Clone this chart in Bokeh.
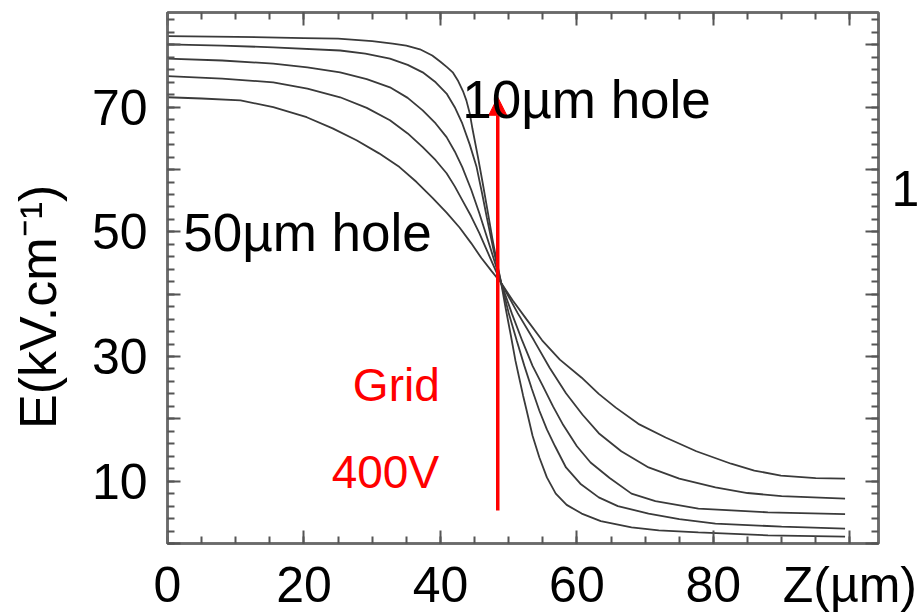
from bokeh.plotting import figure
from bokeh.models import Range1d, FixedTicker, LinearAxis, Label, Arrow, NormalHead
from bokeh.embed import file_html
from bokeh.resources import INLINE

# ---- data: field E (kV/cm) along Z (um), one curve per hole size ----
hole_10_z = [0, 10, 20, 25, 30, 33, 35, 37, 38.8, 40, 41, 41.8, 42.6, 43.3, 43.8, 44.3, 44.7, 45.5, 46.2, 47.0, 47.6,
             48.3, 48.9, 49.6, 50.3, 51.0, 51.5, 52.1, 52.6, 53.5, 54.5, 55.6, 56.9, 58.5, 60.7, 63.5, 68, 72, 77.8, 88, 99.3]
hole_10_e = [81.4, 81.3, 81.1, 81.0, 80.6, 80.2, 79.9, 79.3, 78.3, 77.3, 76.4, 75.6, 74.2, 72.6, 71.1, 69.0, 66.5, 62.0,
             57.8, 52.8, 49.0, 45.0, 41.8, 37.5, 33.5, 29.3, 26.8, 23.8, 21.5, 17.3, 13.8, 10.6, 8.0, 6.2, 4.8, 3.6, 2.6,
             2.1, 1.8, 1.3, 1.1]

hole_20_z = [0, 8, 15.5, 25.3, 29, 32.6, 35.2, 37.4, 39.3, 40.9, 42.1, 43.2, 44.3, 45.3, 46.1, 46.8, 47.8, 48.9, 50.0,
             51.2, 52.3, 53.4, 54.5, 55.6, 56.8, 58.4, 60.5, 63.2, 66, 70.5, 75, 80.3, 90, 99.3]
hole_20_e = [80.1, 79.9, 79.6, 79.1, 78.6, 77.8, 76.8, 75.6, 74.0, 72.2, 70.0, 67.4, 64.0, 60.4, 56.2, 52.3, 47.0, 41.8,
             37.0, 32.5, 28.5, 24.8, 21.3, 18.3, 15.6, 12.2, 9.6, 7.4, 6.0, 4.8, 3.9, 3.2, 2.7, 2.4]

hole_30_z = [0, 8, 15.5, 20.5, 25.3, 29.2, 32.6, 35.2, 37.4, 39.3, 40.9, 42.1, 43.2, 44.5, 45.7, 47.3, 48.9, 50.5, 52.0,
             53.5, 55.0, 56.5, 58.0, 60.0, 62.0, 64.8, 68, 71.5, 77.8, 88, 99.3]
hole_30_e = [77.8, 77.5, 77.0, 76.4, 75.6, 74.5, 73.2, 71.5, 69.5, 67.4, 65.2, 62.9, 60.4, 56.8, 53.0, 47.5, 41.8, 36.8,
             32.5, 28.5, 25.3, 22.0, 19.0, 15.6, 13.0, 10.5, 8.0, 6.8, 5.6, 5.0, 4.7]

hole_40_z = [0, 8, 15.5, 20.5, 25.3, 29.2, 32.6, 35.2, 37.4, 39.3, 40.9, 42.1, 43.2, 44.5, 45.7, 47.3, 48.9, 51.3, 53.7,
             56.0, 58.4, 60.8, 63.2, 66.5, 70.5, 75, 80.3, 85, 90, 99.3]
hole_40_e = [75.0, 74.6, 74.0, 73.0, 71.6, 69.9, 67.9, 65.8, 63.6, 61.5, 59.4, 57.3, 55.1, 52.5, 49.8, 45.8, 41.8, 37.0,
             32.6, 28.2, 24.1, 20.7, 17.7, 14.8, 12.2, 10.4, 9.0, 8.1, 7.6, 7.2]

hole_50_z = [0, 5, 10.7, 15.5, 20.4, 24.2, 27.7, 31, 34, 36.5, 38.8, 40.9, 42.8, 44.5, 46.0, 47.5, 48.9, 50.6, 52.6, 54.9,
             57.5, 60.7, 63.2, 65.7, 69, 73, 77.5, 82.6, 86, 89.9, 95, 99.3]
hole_50_e = [71.6, 71.4, 71.1, 70.0, 68.4, 66.6, 64.7, 62.6, 60.4, 58.0, 55.5, 53.1, 50.7, 48.2, 45.8, 43.7, 41.8, 39.0,
             36.0, 32.6, 29.5, 26.6, 24.0, 21.8, 19.2, 17.0, 14.8, 12.8, 11.7, 10.9, 10.5, 10.4]

curves = [(hole_10_z, hole_10_e), (hole_20_z, hole_20_e), (hole_30_z, hole_30_e),
          (hole_40_z, hole_40_e), (hole_50_z, hole_50_e)]

# grid position and the arrow's extent along E
grid_z = 48.4
arrow_e_start = 5.3
arrow_e_end = 71.6

x_major = [0, 20, 40, 60, 80, 100]
x_labels = {0: "0", 20: "20", 40: "40", 60: "60", 80: "80", 100: "Z(µm)"}
y_major = [0, 10, 20, 30, 40, 50, 60, 70, 80]
y_labels = {0: "", 10: "10", 20: "", 30: "30", 40: "", 50: "50", 60: "", 70: "70", 80: ""}
side_tick = [57]          # stray "1" of the neighbouring panel at the right edge
side_labels = {57: "1"}

FONT = "Liberation Sans"
FRAME_COL = "#6a6a6a"
NBSP = "\u00a0"

p = figure(width=922, height=616,
           x_range=Range1d(0, 104.2), y_range=Range1d(0, 85.2),
           output_backend="svg", toolbar_location=None,
           min_border_left=167, min_border_right=41, min_border_top=12, min_border_bottom=73,
           background_fill_color="white", border_fill_color="white",
           x_axis_type=None, y_axis_type=None)
p.grid.visible = False
p.outline_line_color = FRAME_COL
p.outline_line_width = 2.5


def style_axis(ax, overrides, size="50px", standoff=10):
    ax.axis_line_color = FRAME_COL
    ax.axis_line_width = 2.5
    ax.major_tick_in = 13
    ax.major_tick_out = 0
    ax.minor_tick_in = 7
    ax.minor_tick_out = 0
    ax.major_tick_line_color = "#555555"
    ax.major_tick_line_width = 2
    ax.minor_tick_line_color = "#555555"
    ax.minor_tick_line_width = 2
    ax.major_label_text_font = FONT
    ax.major_label_text_font_size = size
    ax.major_label_text_color = "black"
    ax.major_label_standoff = standoff
    ax.major_label_overrides = overrides


xt = FixedTicker(ticks=x_major, minor_ticks=list(range(0, 105, 5)))
yt = FixedTicker(ticks=y_major, minor_ticks=list(range(0, 86, 2)))

xb = LinearAxis(ticker=xt)
style_axis(xb, x_labels, standoff=13)
p.add_layout(xb, "below")

xa = LinearAxis(ticker=xt)
style_axis(xa, {t: "" for t in x_major}, size="1px", standoff=0)
p.add_layout(xa, "above")

yl = LinearAxis(ticker=yt)
style_axis(yl, y_labels, standoff=20)
yl.axis_label = "E(kV.cm\u207b\u00b9)" + NBSP * 4
yl.axis_label_text_font = FONT
yl.axis_label_text_font_size = "52px"
yl.axis_label_text_font_style = "normal"
yl.axis_label_text_color = "black"
yl.axis_label_standoff = 22
p.add_layout(yl, "left")

yr = LinearAxis(ticker=yt)
style_axis(yr, {t: "" for t in y_major}, size="1px", standoff=0)
p.add_layout(yr, "right")

ys = LinearAxis(ticker=FixedTicker(ticks=side_tick, minor_ticks=[]))
ys.axis_line_color = None
ys.major_tick_line_color = None
ys.minor_tick_line_color = None
ys.major_label_text_font = FONT
ys.major_label_text_font_size = "50px"
ys.major_label_text_color = "black"
ys.major_label_standoff = 7
ys.major_label_overrides = side_labels
p.add_layout(ys, "right")

for z, e in curves:
    p.line(z, e, line_color="#3a3a3a", line_width=1.8)

p.add_layout(Arrow(end=NormalHead(size=18, fill_color="#ff0000", line_color="#ff0000", line_width=1),
                   x_start=grid_z, y_start=arrow_e_start, x_end=grid_z, y_end=arrow_e_end,
                   line_color="#ff0000", line_width=3.5))


def lab(x, y, text, size, color="black", align="left"):
    p.add_layout(Label(x=x, y=y, text=text, text_font=FONT, text_font_size=size,
                       text_color=color, text_align=align, text_baseline="alphabetic"))


lab(43.2, 71.3, "10µm hole", "53px")
lab(2.3, 49.9, "50µm hole", "53px")
lab(39.9, 25.4, "Grid", "46px", color="#ff0000", align="right")
lab(39.8, 11.4, "400V", "46px", color="#ff0000", align="right")

open("out.html", "w").write(file_html(p, INLINE))
